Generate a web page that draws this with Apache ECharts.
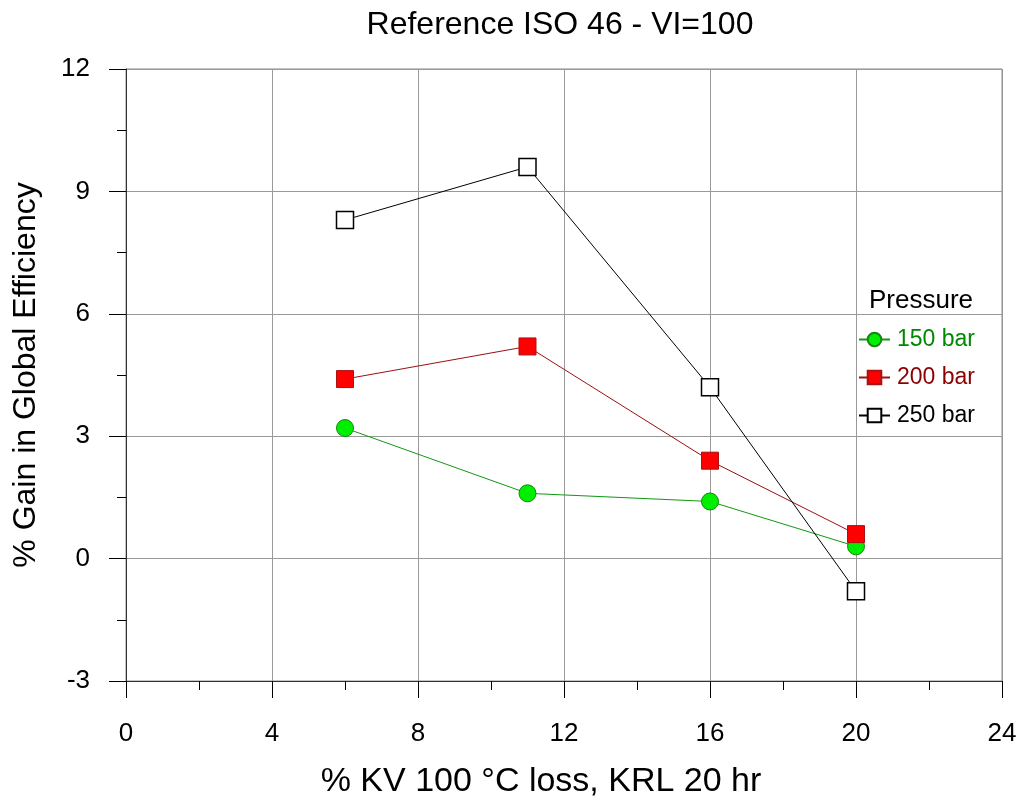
<!DOCTYPE html>
<html>
<head>
<meta charset="utf-8">
<script src="https://cdn.jsdelivr.net/npm/echarts@6/dist/echarts.min.js"></script>
<style>
  html, body { margin: 0; padding: 0; background: #fff; overflow: hidden; }
  #chart { width: 1017px; height: 803px; }
</style>
</head>
<body>
<div id="chart"></div>
<script>
// % KV 100 °C loss
const kvLoss = [6, 11, 16, 20];
// % gain in global efficiency per pressure
const gain150 = [3.2, 1.6, 1.4, 0.3];
const gain200 = [4.4, 5.2, 2.4, 0.6];
const gain250 = [8.3, 9.6, 4.2, -0.8];
const seriesNames = ['150 bar', '200 bar', '250 bar'];

const font = '"Liberation Sans", Arial, sans-serif';

function pairs(vals) {
  return kvLoss.map((x, i) => [x, vals[i]]);
}

const chart = echarts.init(document.getElementById('chart'));
chart.setOption({
  animation: false,
  backgroundColor: '#fff',
  title: {
    text: 'Reference ISO 46 - VI=100',
    left: 555,
    textAlign: 'center',
    top: 4,
    textStyle: { fontFamily: font, fontSize: 32, fontWeight: 'normal', color: '#000' }
  },
  graphic: [{
    type: 'text',
    left: 869,
    top: 288,
    style: { text: 'Pressure', font: '26px ' + font, fill: '#000' }
  }],
  legend: {
    orient: 'vertical',
    left: 853,
    top: 323,
    itemWidth: 31,
    itemHeight: 17,
    itemGap: 15,
    textStyle: { fontFamily: font, fontSize: 23, padding: [0, 0, 0, 2] },
    data: [
      { name: '150 bar', textStyle: { color: '#008800' } },
      { name: '200 bar', textStyle: { color: '#8b0000' } },
      { name: '250 bar', textStyle: { color: '#000' } }
    ]
  },
  grid: {
    left: 126, right: 15, top: 69, bottom: 122,
    outerBoundsMode: 'none',
    containLabel: false,
    show: true, borderColor: '#888', borderWidth: 1
  },
  xAxis: {
    type: 'value',
    min: 0, max: 24, interval: 4,
    name: '% KV 100 °C loss, KRL 20 hr',
    nameLocation: 'middle',
    nameGap: 84,
    nameTextStyle: { fontFamily: font, fontSize: 34, color: '#000', padding: [0, 46, 0, 0] },
    axisLine: { onZero: false, lineStyle: { color: '#333', width: 1 } },
    axisTick: { inside: false, length: 17, lineStyle: { color: '#000' } },
    minorTick: { show: true, splitNumber: 2, length: 9, lineStyle: { color: '#000' } },
    axisLabel: { fontFamily: font, fontSize: 26, color: '#000', margin: 40 },
    splitLine: { show: true, lineStyle: { color: '#999', width: 1 } }
  },
  yAxis: {
    type: 'value',
    min: -3, max: 12, interval: 3,
    name: '% Gain in Global Efficiency',
    nameLocation: 'middle',
    nameGap: 84,
    nameTextStyle: { fontFamily: font, fontSize: 32, color: '#000' },
    axisLine: { onZero: false, lineStyle: { color: '#333', width: 1 } },
    axisTick: { inside: false, length: 17, lineStyle: { color: '#000' } },
    minorTick: { show: true, splitNumber: 2, length: 9, lineStyle: { color: '#000' } },
    axisLabel: { fontFamily: font, fontSize: 26, color: '#000', margin: 36 },
    splitLine: { show: true, lineStyle: { color: '#999', width: 1 } }
  },
  series: [
    {
      name: seriesNames[0],
      type: 'line',
      data: pairs(gain150),
      symbol: 'circle',
      symbolSize: 17,
      lineStyle: { color: '#119911', width: 1 },
      itemStyle: { color: '#00ee00', borderColor: '#118811', borderWidth: 1 }
    },
    {
      name: seriesNames[1],
      type: 'line',
      data: pairs(gain200),
      symbol: 'rect',
      symbolSize: 17,
      lineStyle: { color: '#9b1010', width: 1 },
      itemStyle: { color: '#ff0000', borderColor: '#aa1111', borderWidth: 1 }
    },
    {
      name: seriesNames[2],
      type: 'line',
      data: pairs(gain250),
      symbol: 'rect',
      symbolSize: 17,
      lineStyle: { color: '#000', width: 1 },
      itemStyle: { color: '#fff', borderColor: '#000', borderWidth: 1.5 }
    }
  ]
});
</script>
</body>
</html>
